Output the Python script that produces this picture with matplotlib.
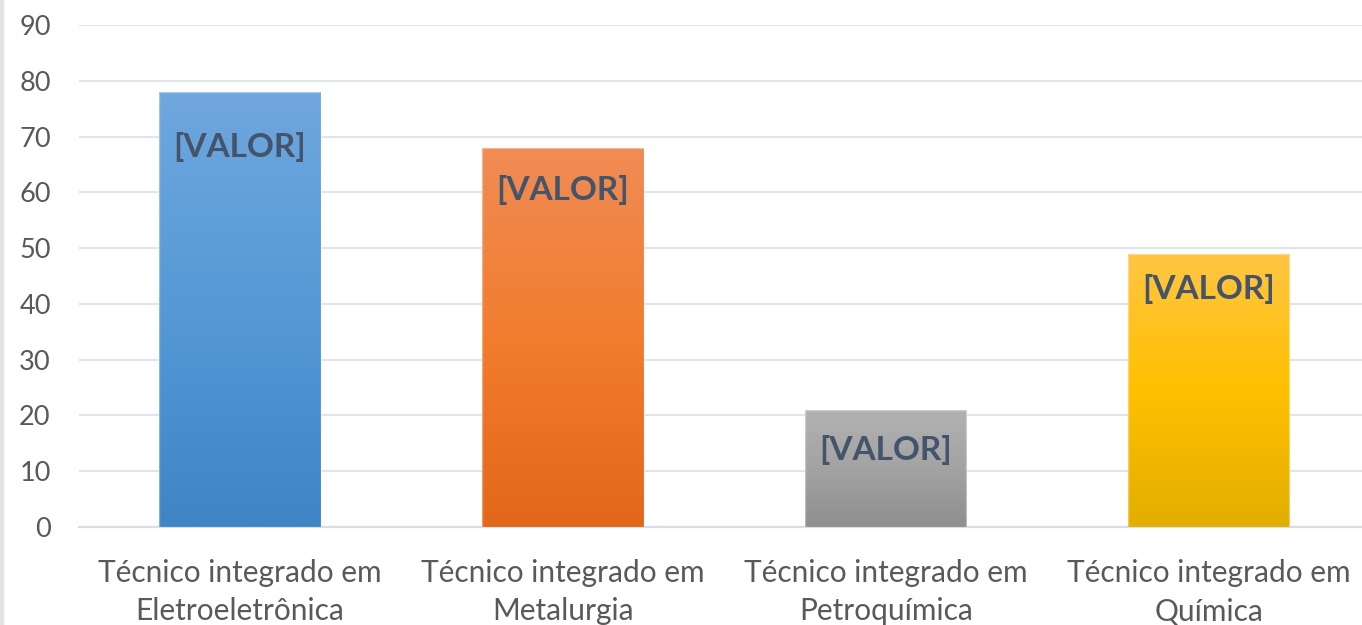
import numpy as np
import matplotlib
matplotlib.use("Agg")
import matplotlib.pyplot as plt
from matplotlib.colors import LinearSegmentedColormap
from matplotlib.patches import Rectangle

categories = ["Técnico integrado em\nEletroeletrônica",
              "Técnico integrado em\nMetalurgia",
              "Técnico integrado em\nPetroquímica",
              "Técnico integrado em\nQuímica"]
values = [78, 68, 21, 49]
labels = ["[VALOR]", "[VALOR]", "[VALOR]", "[VALOR]"]
yticks = [0, 10, 20, 30, 40, 50, 60, 70, 80, 90]

# gradient colours (top, middle, bottom)
gradients = [
    ["#70A7DE", "#5599D6", "#3E85C6"],
    ["#F08C55", "#F27D2E", "#E2671B"],
    ["#B2B2B2", "#A3A3A3", "#8F8F8F"],
    ["#FFC543", "#FFC000", "#E2AE00"],
]
label_offsets_px = [-55, -42, -40, -35]

FONT = ["Lato", "DejaVu Sans"]
plt.rcParams["font.family"] = FONT

fig = plt.figure(figsize=(13.62, 6.25), dpi=100)
left = 78.5 / 1362
axw = (1370 - 78.5) / 1362
bottom = 98 / 625
axh = (600 - 98) / 625
ax = fig.add_axes([left, bottom, axw, axh])

x = np.arange(len(categories))
bars = ax.bar(x, values, width=0.5, color="none", edgecolor="none", zorder=3)

for bar, grad in zip(bars, gradients):
    cmap = LinearSegmentedColormap.from_list("g", grad[::-1])
    bx, by = bar.get_x(), bar.get_y()
    bw, bh = bar.get_width(), bar.get_height()
    grad_img = np.linspace(0, 1, 256).reshape(-1, 1)
    im = ax.imshow(grad_img, extent=[bx, bx + bw, by, by + bh], origin="lower",
                   cmap=cmap, aspect="auto", zorder=3)
    im.set_clip_path(bar)
    ax.add_patch(Rectangle((bx, by), bw, bh, fill=False, edgecolor=(1, 1, 1, 0.35),
                           linewidth=1.0, zorder=4))

for xi, v, lab, off in zip(x, values, labels, label_offsets_px):
    ax.annotate(lab, xy=(xi, v), xytext=(0, off * 72 / 100), textcoords="offset points",
                ha="center", va="center", fontsize=24, fontweight="bold",
                color="#44546A", zorder=5)

ax.set_xlim(-0.5, 3.5)
ax.set_ylim(0, 90)
ax.set_yticks(yticks)
ax.set_yticklabels([str(t) for t in yticks], fontsize=19.5)
ax.set_xticks(x)
ax.set_xticklabels(categories, linespacing=1.45, fontsize=21.5)

ax.grid(axis="y", color="#E1E4EA", linewidth=1.6, zorder=0)
ax.set_axisbelow(True)
for s in ["top", "right", "left"]:
    ax.spines[s].set_visible(False)
ax.spines["bottom"].set_color("#DADDE3")
ax.spines["bottom"].set_linewidth(1.6)
ax.tick_params(axis="both", length=0, colors="#595959")
ax.tick_params(axis="y", pad=20)
ax.tick_params(axis="x", pad=23)

fig.patches.append(Rectangle((0, 0), 3 / 1362, 1, transform=fig.transFigure,
                             color="#E4E4E4", zorder=0))

fig.savefig("out.png", dpi=100)
